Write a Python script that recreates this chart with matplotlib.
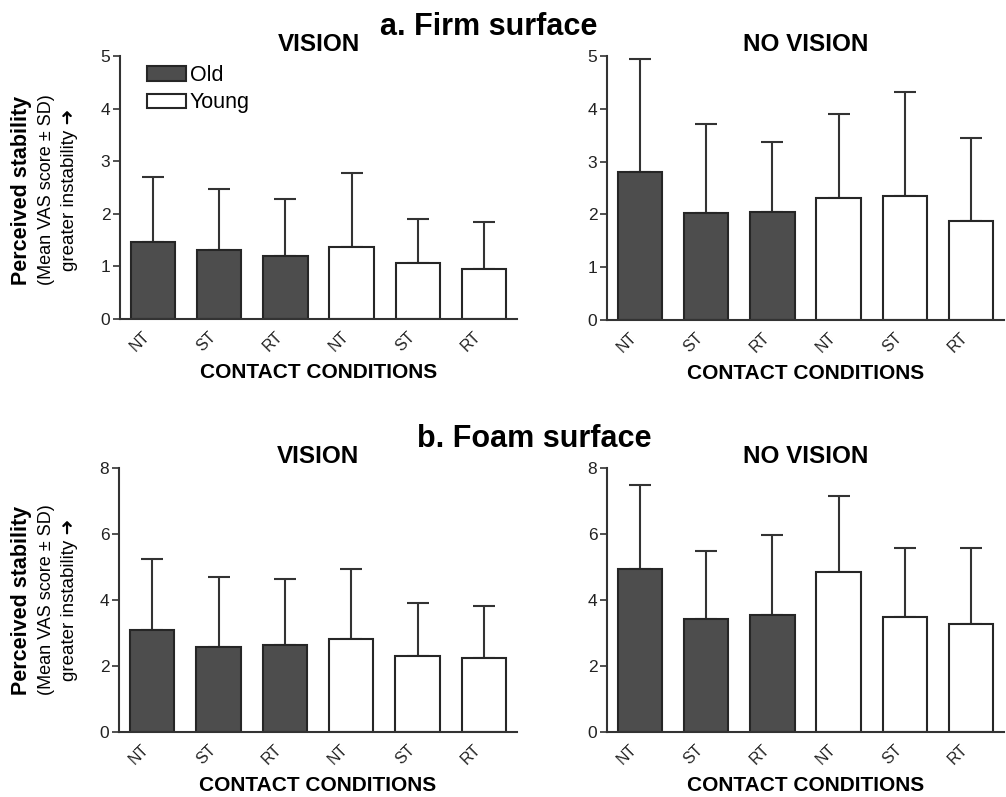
import numpy as np
import matplotlib
matplotlib.use("Agg")
import matplotlib.pyplot as plt
from matplotlib.patches import Patch
from matplotlib.transforms import ScaledTranslation

plt.rcParams['font.family'] = ['Liberation Sans', 'DejaVu Sans']

# data
conditions = ['NT', 'ST', 'RT', 'NT', 'ST', 'RT']
groups = ['Old', 'Old', 'Old', 'Young', 'Young', 'Young']

firm_vision_mean = [1.46, 1.32, 1.19, 1.36, 1.06, 0.96]
firm_vision_sd = [1.24, 1.15, 1.10, 1.42, 0.85, 0.89]
firm_novision_mean = [2.81, 2.02, 2.04, 2.32, 2.35, 1.88]
firm_novision_sd = [2.13, 1.70, 1.33, 1.59, 1.96, 1.56]

foam_vision_mean = [3.09, 2.59, 2.63, 2.83, 2.31, 2.25]
foam_vision_sd = [2.15, 2.10, 2.00, 2.10, 1.59, 1.58]
foam_novision_mean = [4.94, 3.43, 3.55, 4.85, 3.49, 3.27]
foam_novision_sd = [2.56, 2.07, 2.43, 2.31, 2.08, 2.32]

old_color = '#4d4d4d'
young_color = '#ffffff'
edge = '#262626'
line_c = '#333333'

W, H = 1006, 797
fig = plt.figure(figsize=(W / 100, H / 100), dpi=100)


def px_axes(left, right, top, bottom):
    return fig.add_axes([left / W, 1 - bottom / H, (right - left) / W, (bottom - top) / H])


def draw(ax, means, sds, ymax, yticks, title):
    x = np.arange(len(means))
    colors = [old_color if g == 'Old' else young_color for g in groups]
    ax.errorbar(x, means, yerr=[np.zeros(len(sds)), sds], fmt='none',
                ecolor=line_c, elinewidth=1.5, capsize=8, capthick=1.5, zorder=1)
    ax.bar(x, means, width=0.67, color=colors, edgecolor=edge, linewidth=1.5, zorder=2)
    ax.set_xlim(-0.5, 5.5)
    ax.set_ylim(0, ymax)
    ax.set_yticks(yticks)
    ax.set_xticks(x)
    ax.set_xticklabels(conditions, rotation=45, ha='right', fontsize=11.5, color='#222222')
    shift = ScaledTranslation(4 / 100, 0, fig.dpi_scale_trans)
    for lab in ax.get_xticklabels():
        lab.set_transform(lab.get_transform() + shift)
    ax.tick_params(axis='x', length=0, pad=7)
    ax.tick_params(axis='y', length=5, width=1.2, color=line_c, labelsize=12.5, labelcolor='#222222', pad=2)
    for s in ['top', 'right']:
        ax.spines[s].set_visible(False)
    for s in ['left', 'bottom']:
        ax.spines[s].set_color(line_c)
        ax.spines[s].set_linewidth(1.5)
    ax.set_xlabel('CONTACT CONDITIONS', fontsize=15, fontweight='bold', labelpad=6)
    ax.set_title(title, fontsize=17.5, fontweight='bold', pad=3)


ax1 = px_axes(120, 517, 56, 319)
ax2 = px_axes(607, 1004, 56, 320)
ax3 = px_axes(119, 517, 468, 732)
ax4 = px_axes(607, 1004, 468, 732)

draw(ax1, firm_vision_mean, firm_vision_sd, 5, range(0, 6), 'VISION')
draw(ax2, firm_novision_mean, firm_novision_sd, 5, range(0, 6), 'NO VISION')
draw(ax3, foam_vision_mean, foam_vision_sd, 8, range(0, 9, 2), 'VISION')
draw(ax4, foam_novision_mean, foam_novision_sd, 8, range(0, 9, 2), 'NO VISION')

ax1.legend(handles=[Patch(facecolor=old_color, edgecolor=edge, linewidth=1.5, label='Old'),
                    Patch(facecolor=young_color, edgecolor=edge, linewidth=1.5, label='Young')],
           loc='upper left', bbox_to_anchor=(27 / 397, 1 - 9 / 263), frameon=False, fontsize=15.5,
           borderpad=0, borderaxespad=0,
           handlelength=1.8, handleheight=0.65, handletextpad=0.2, labelspacing=0.3)

fig.text(380 / W, 1 - 35 / H, 'a. Firm surface', ha='left', va='baseline', fontsize=22, fontweight='bold')
fig.text(417 / W, 1 - 447 / H, 'b. Foam surface', ha='left', va='baseline', fontsize=22, fontweight='bold')

for yc in [190, 600]:
    fig.text(22 / W, 1 - yc / H, 'Perceived stability', rotation=90, ha='center', va='center',
             fontsize=15.5, fontweight='bold')
    fig.text(47 / W, 1 - yc / H, '(Mean VAS score \u00b1 SD)', rotation=90, ha='center', va='center',
             fontsize=13)
    fig.text(70 / W, 1 - yc / H, 'greater instability \u279c', rotation=90, ha='center', va='center',
             fontsize=13.5, family=['Liberation Sans', 'DejaVu Sans'])

fig.savefig('out.png', dpi=100)
